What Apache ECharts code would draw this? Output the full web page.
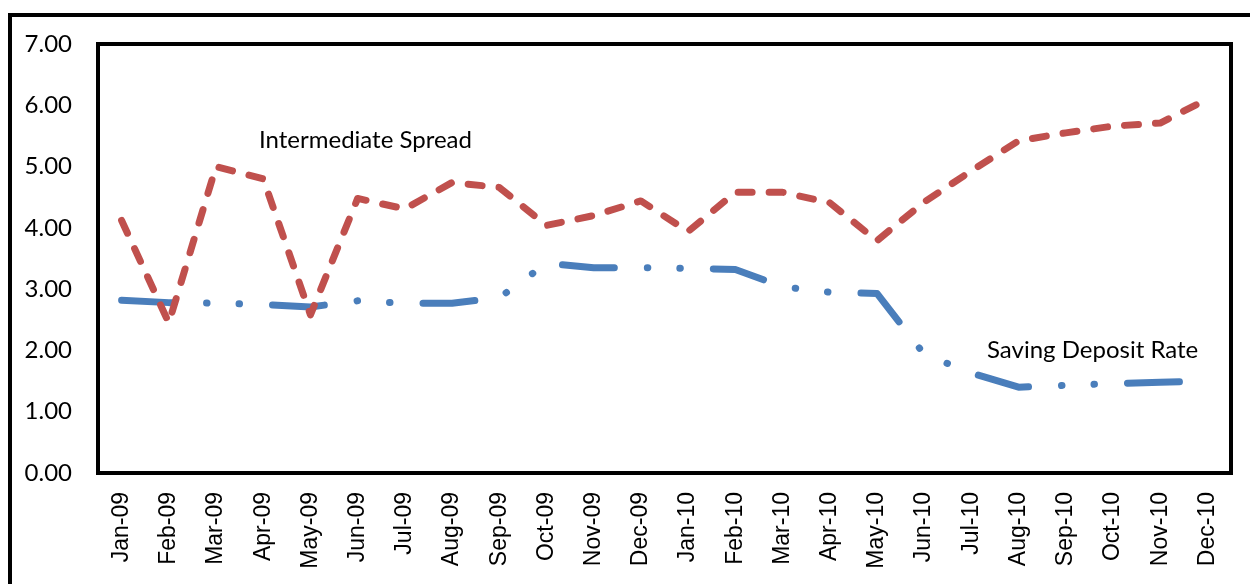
<!DOCTYPE html>
<html>
<head>
<meta charset="utf-8">
<script src="https://cdn.jsdelivr.net/npm/echarts@6/dist/echarts.min.js"></script>
<style>
html,body{margin:0;padding:0;background:#fff;}
#chart{width:1250px;height:584px;}
</style>
</head>
<body>
<div id="chart"></div>
<script>
var categories = ['Jan-09','Feb-09','Mar-09','Apr-09','May-09','Jun-09','Jul-09','Aug-09','Sep-09','Oct-09','Nov-09','Dec-09',
                  'Jan-10','Feb-10','Mar-10','Apr-10','May-10','Jun-10','Jul-10','Aug-10','Sep-10','Oct-10','Nov-10','Dec-10'];
var intermediateSpread = [4.12,2.45,5.00,4.80,2.58,4.48,4.31,4.74,4.66,4.04,4.20,4.44,
                          3.94,4.58,4.58,4.41,3.79,4.42,4.93,5.42,5.55,5.66,5.71,6.10];
var savingDepositRate = [2.82,2.78,2.77,2.75,2.71,2.81,2.77,2.77,2.86,3.42,3.35,3.35,
                         3.34,3.32,3.04,2.95,2.93,1.94,1.63,1.40,1.43,1.46,1.48,1.50];
var yTicks = [0,1,2,3,4,5,6,7];
var seriesNames = ['Intermediate Spread','Saving Deposit Rate'];

var chart = echarts.init(document.getElementById('chart'), null, {renderer:'canvas'});
chart.setOption({
  animation:false,
  backgroundColor:'#fff',
  grid:{left:98, top:44, right:19, bottom:111, show:true, borderColor:'#000', borderWidth:4, backgroundColor:'transparent'},
  xAxis:{
    type:'category', data:categories, boundaryGap:true,
    axisLine:{show:false}, axisTick:{show:false}, splitLine:{show:false},
    axisLabel:{rotate:90, margin:19, color:'#000', fontFamily:'Liberation Sans', fontSize:23, interval:0}
  },
  yAxis:{
    type:'value', min:yTicks[0], max:yTicks[yTicks.length-1], interval:1,
    axisLine:{show:false}, axisTick:{show:false}, splitLine:{show:false},
    axisLabel:{margin:26, color:'#000', fontFamily:'Lato', fontSize:24, formatter:function(v){return v.toFixed(2);}}
  },
  series:[
    {name:seriesNames[0], type:'line', data:intermediateSpread, symbol:'none', smooth:false,
     lineStyle:{color:'#C0504D', width:7, type:[14,17], cap:'round', join:'round'}, z:3},
    {name:seriesNames[1], type:'line', data:savingDepositRate, symbol:'none', smooth:false,
     lineStyle:{color:'#4A7EBB', width:7, type:[52,33,0.5,32,0.5,33], cap:'round', join:'round'}, z:2}
  ],
  graphic:[
    {type:'rect', shape:{x:10, y:15, width:1300, height:700}, style:{fill:'none', stroke:'#000', lineWidth:4}, z:-1},
    {type:'text', x:259, y:140, style:{text:seriesNames[0], font:'24px Lato', fill:'#000', verticalAlign:'middle'}},
    {type:'text', x:987, y:350, style:{text:seriesNames[1], font:'24px Lato', fill:'#000', verticalAlign:'middle'}}
  ]
});
</script>
</body>
</html>
